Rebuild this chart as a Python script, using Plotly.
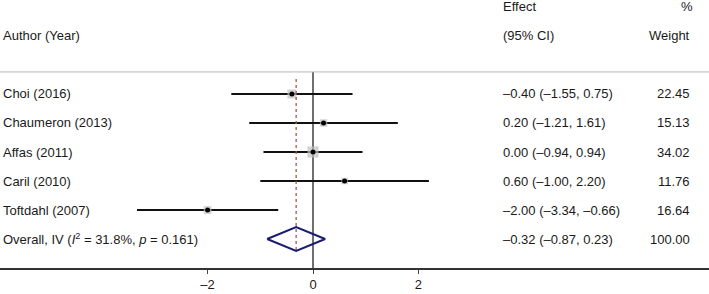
import plotly.graph_objects as go
import numpy as np

studies = ["Choi (2016)", "Chaumeron (2013)", "Affas (2011)", "Caril (2010)", "Toftdahl (2007)"]
effect = [-0.40, 0.20, 0.00, 0.60, -2.00]
ci_low = [-1.55, -1.21, -0.94, -1.00, -3.34]
ci_high = [0.75, 1.61, 0.94, 2.20, -0.66]
weights = [22.45, 15.13, 34.02, 11.76, 16.64]
overall_effect = -0.32
overall_low = -0.87
overall_high = 0.23
overall_label = "Overall, IV (<i>I</i><sup>2</sup> = 31.8%, <i>p</i> = 0.161)"
x_ticks = [-2, 0, 2]

W, H = 709, 294
FONT = "Liberation Sans, Arial, sans-serif"
TXT = "#1a1a1a"

rows = list(range(len(studies)))
overall_row = len(studies)

fig = go.Figure()

# CI lines
xs, ys = [], []
for r, lo, hi in zip(rows, ci_low, ci_high):
    xs += [lo, hi, None]
    ys += [r, r, None]
fig.add_trace(go.Scatter(x=xs, y=ys, mode="lines", line=dict(color="#111111", width=2),
                         hoverinfo="skip", showlegend=False))

# weight squares
fig.add_trace(go.Scatter(x=effect, y=rows, mode="markers",
                         marker=dict(symbol="square", color="#c0c0c0",
                                     size=[1.9 * np.sqrt(w) for w in weights], line=dict(width=0)),
                         showlegend=False, hoverinfo="skip"))
# point estimate dots
fig.add_trace(go.Scatter(x=effect, y=rows, mode="markers",
                         marker=dict(symbol="circle", color="#000000", size=5),
                         showlegend=False, hoverinfo="skip"))

# overall dashed line
fig.add_trace(go.Scatter(x=[overall_effect, overall_effect], y=[-0.52, overall_row + 0.41],
                         mode="lines", line=dict(color="#9a5a5a", width=1.3, dash="3px,3px"),
                         showlegend=False, hoverinfo="skip"))

# diamond
fig.add_trace(go.Scatter(x=[overall_low, overall_effect, overall_high, overall_effect, overall_low],
                         y=[overall_row, overall_row - 0.41, overall_row, overall_row + 0.41, overall_row],
                         mode="lines", line=dict(color="#1c1c6e", width=2),
                         showlegend=False, hoverinfo="skip"))

# vertical null line
fig.add_shape(type="line", x0=0, x1=0, y0=-0.76, y1=6, xref="x", yref="y",
              line=dict(color="#222222", width=1.3), layer="below")
# top separator
fig.add_shape(type="line", x0=0, x1=1, y0=-0.76, y1=-0.76, xref="paper", yref="y",
              line=dict(color="#b8b8b8", width=1))

def ann(text, xpix, y, anchor):
    fig.add_annotation(text=text, x=xpix / W, y=y, xref="paper", yref="y",
                       xanchor=anchor, yanchor="middle", showarrow=False,
                       font=dict(family=FONT, size=13, color=TXT))

# headers
ann("Author (Year)", 1, -2.0, "left")
ann("Effect", 501, -3.0, "left")
ann("(95% CI)", 501, -2.0, "left")
ann("%", 695, -3.0, "right")
ann("Weight", 692, -2.0, "right")

def fmt(v):
    return f"{v:.2f}".replace("-", "\u2013")

for r, s, e, lo, hi, w in zip(rows, studies, effect, ci_low, ci_high, weights):
    ann(s, 1, r, "left")
    ann(f"{fmt(e)} ({fmt(lo)}, {fmt(hi)})", 501, r, "left")
    ann(f"{w:.2f}", 692, r, "right")

ann(overall_label, 1, overall_row, "left")
ann(f"{fmt(overall_effect)} ({fmt(overall_low)}, {fmt(overall_high)})", 501, overall_row, "left")
ann(f"{100:.2f}", 692, overall_row, "right")

x0pix, scale = 313, 52.7
fig.update_layout(
    width=W, height=H,
    margin=dict(l=0, r=0, t=0, b=26),
    paper_bgcolor="white", plot_bgcolor="white",
    xaxis=dict(range=[-x0pix / scale, (W - x0pix) / scale], tickvals=x_ticks,
               ticktext=[str(t).replace("-", "\u2013") for t in x_ticks],
               ticks="outside", ticklen=4, tickcolor="#444444", tickwidth=1,
               showline=True, linecolor="#333333", linewidth=1.5,
               showgrid=False, zeroline=False, automargin=False,
               tickfont=dict(family=FONT, size=13, color=TXT)),
    yaxis=dict(range=[6, -3.241], showgrid=False, zeroline=False, showticklabels=False,
               showline=False, ticks="", automargin=False),
    showlegend=False,
)

fig.write_html("out.html", config={"displayModeBar": False},
               post_script="document.body.style.margin='0';")
